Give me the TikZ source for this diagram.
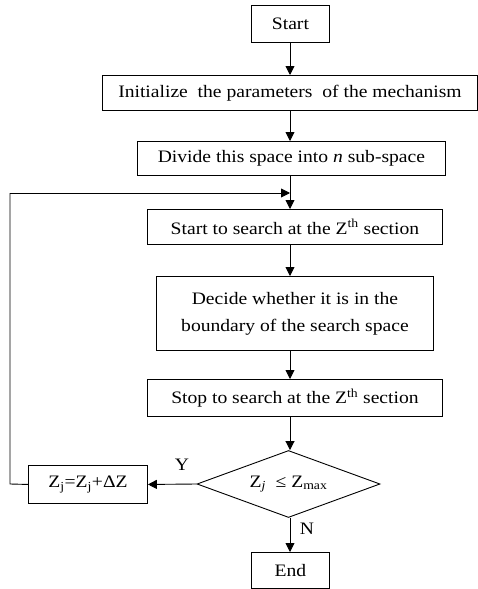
\documentclass[tikz,border=0pt]{standalone}
\usepackage{fontspec}
\setmainfont[FakeStretch=1.12]{Liberation Serif}
\usetikzlibrary{arrows.meta,shapes.geometric}
\begin{document}
\begin{tikzpicture}[x=1pt,y=-1pt,
  box/.style={draw,line width=0.9pt,inner sep=0pt,anchor=north west},
  arr/.style={line width=0.9pt,-{Triangle[length=9pt,width=9pt]}},
  ln/.style={line width=0.9pt},
  font=\fontsize{17.5}{21}\selectfont]
\useasboundingbox (0,0) rectangle (477,589);
\node[box,minimum width=78pt,minimum height=37pt] (start) at (251,5) {Start};
\node[box,minimum width=375pt,minimum height=35pt] (init) at (102,75) {Initialize\ \ the parameters\ \ of the mechanism};
\node[box,minimum width=308pt,minimum height=34pt] (div) at (137,141) {Divide this space into \textit{n} sub-space};
\node[box,minimum width=295pt,minimum height=35pt] (s1) at (147,209) {Start to search at the Z\textsuperscript{th} section};
\node[box,minimum width=277pt,minimum height=74pt,align=center] (dec) at (156,276) {Decide whether it is in the\\[6pt]boundary of the search space};
\node[box,minimum width=295pt,minimum height=37pt] (s2) at (147,379) {Stop to search at the Z\textsuperscript{th} section};
\node[draw,line width=0.9pt,diamond,aspect=2.73,minimum width=183pt,minimum height=67pt,inner sep=0pt] (dia) at (288.5,484) {};
\node at (dia.center) {Z\textsubscript{\textit{j}}\ \ ≤ Z\textsubscript{max}};
\node[box,minimum width=119pt,minimum height=38pt] (inc) at (28,465) {Z\textsubscript{j}=Z\textsubscript{j}+ΔZ};
\node[box,minimum width=78pt,minimum height=36pt] (end) at (251,552) {End};
\coordinate (m) at (290,193);
\coordinate (c1) at (10,484);
\coordinate (c2) at (10,193);
\draw[arr] (start.south -| 290,0) -- (init.north -| 290,0);
\draw[arr] (init.south -| 290,0) -- (div.north -| 290,0);
\draw[arr] (div.south -| 290,0) -- (s1.north -| 290,0);
\draw[arr] (s1.south -| 290,0) -- (dec.north -| 290,0);
\draw[arr] (dec.south -| 290,0) -- (s2.north -| 290,0);
\draw[arr] (s2.south -| 290,0) -- (dia.north -| 290,0);
\draw[arr] (dia.west) -- (inc.east);
\draw[arr] (dia.south -| 290,0) -- (end.north -| 290,0);
\draw[ln] (inc.west) -- (c1) -- (c2);
\draw[arr] (c2) -- (m);
\node (y) at (182,465) {Y};
\node (n) at (307,529) {N};
\end{tikzpicture}
\end{document}
